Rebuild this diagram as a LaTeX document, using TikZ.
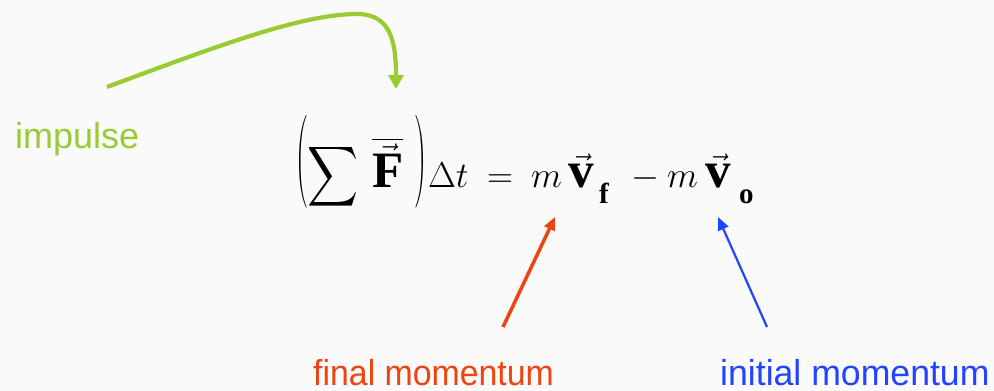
\RequirePackage{fix-cm}
\documentclass[tikz,border=0pt]{standalone}
\usepackage{amsmath}
\usepackage{graphicx}
\usepackage{fontspec}
\newfontfamily\labfont{Liberation Sans}
\newfontfamily\serfont{Liberation Serif}
\usetikzlibrary{arrows.meta}
\definecolor{impgreen}{RGB}{153,204,51}
\definecolor{finred}{RGB}{238,68,17}
\definecolor{iniblue}{RGB}{34,68,255}
\definecolor{bgcol}{RGB}{250,250,250}
\tikzset{
  lab/.style={inner sep=0pt, anchor=base west, font=\labfont\fontsize{36}{40}\selectfont},
  eqpart/.style={inner sep=0pt, anchor=base west, font=\fontsize{36}{40}\selectfont},
  eqbox/.style={inner sep=0pt, anchor=center, font=\fontsize{36}{40}\selectfont},
  subbold/.style={inner sep=0pt, anchor=base west, font=\serfont\bfseries\fontsize{29}{32}\selectfont},
}
\begin{document}
\begin{tikzpicture}[x=1pt,y=-1pt]
\fill[bgcol] (0,0) rectangle (994,391);
\useasboundingbox (0,0) rectangle (994,391);
% labels
\node[lab, text=impgreen] (imp) at (15,148) {impulse};
\node[lab, text=finred] (fin) at (313,385) {\scalebox{0.94}[1]{final momentum}};
\node[lab, text=iniblue] (ini) at (720,385) {\scalebox{0.99}[1]{initial momentum}};
% equation
\node[eqbox] (lp) at (301,161.5) {\resizebox*{12pt}{93pt}{$\biggl($}};
\node[eqbox] (sum) at (332.5,176.5) {\resizebox*{51pt}{67pt}{$\displaystyle\sum$}};
\node[eqpart] (F) at (372,187) {$\overline{\vec{\hbox{\serfont\bfseries\fontsize{51}{55}\selectfont F}}}$};
\node[eqbox] (rp) at (421,161.5) {\resizebox*{12pt}{93pt}{$\biggr)$}};
\node[eqpart] (dt) at (428,187) {$\Delta t$};
\node[eqpart] (eq) at (487,187) {$=$};
\node[eqpart] (m1) at (531,187) {$m$};
\node[eqpart] (v1) at (568,187) {$\vec{\hbox{\serfont\bfseries\fontsize{51}{55}\selectfont v}}$};
\node[subbold] (sf) at (599,203) {f};
\node[eqpart] (minus) at (631,187) {$-$};
\node[eqpart] (m2) at (667,187) {$m$};
\node[eqpart] (v2) at (705,187) {$\vec{\hbox{\serfont\bfseries\fontsize{51}{55}\selectfont v}}$};
\node[subbold] (so) at (739,203) {o};
% connectors
\coordinate (gs) at (107,87);
\coordinate (gtop) at (355,14);
\coordinate (ge) at (396,89);
\draw[impgreen, line width=4.2pt, -{Triangle[width=15pt,length=14pt]}]
  (gs) .. controls (220,45) and (300,15) .. (gtop)
       .. controls (390,13) and (396,40) .. (ge);
\coordinate (rt) at (503,327);
\coordinate (rh) at (555,217);
\draw[finred, line width=3.5pt, -{Triangle[width=11pt,length=13pt]}] (rt) -- (rh);
\coordinate (bt) at (767,327);
\coordinate (bh) at (718,217);
\draw[iniblue, line width=2.2pt, -{Triangle[width=11pt,length=13pt]}] (bt) -- (bh);
\end{tikzpicture}
\end{document}
